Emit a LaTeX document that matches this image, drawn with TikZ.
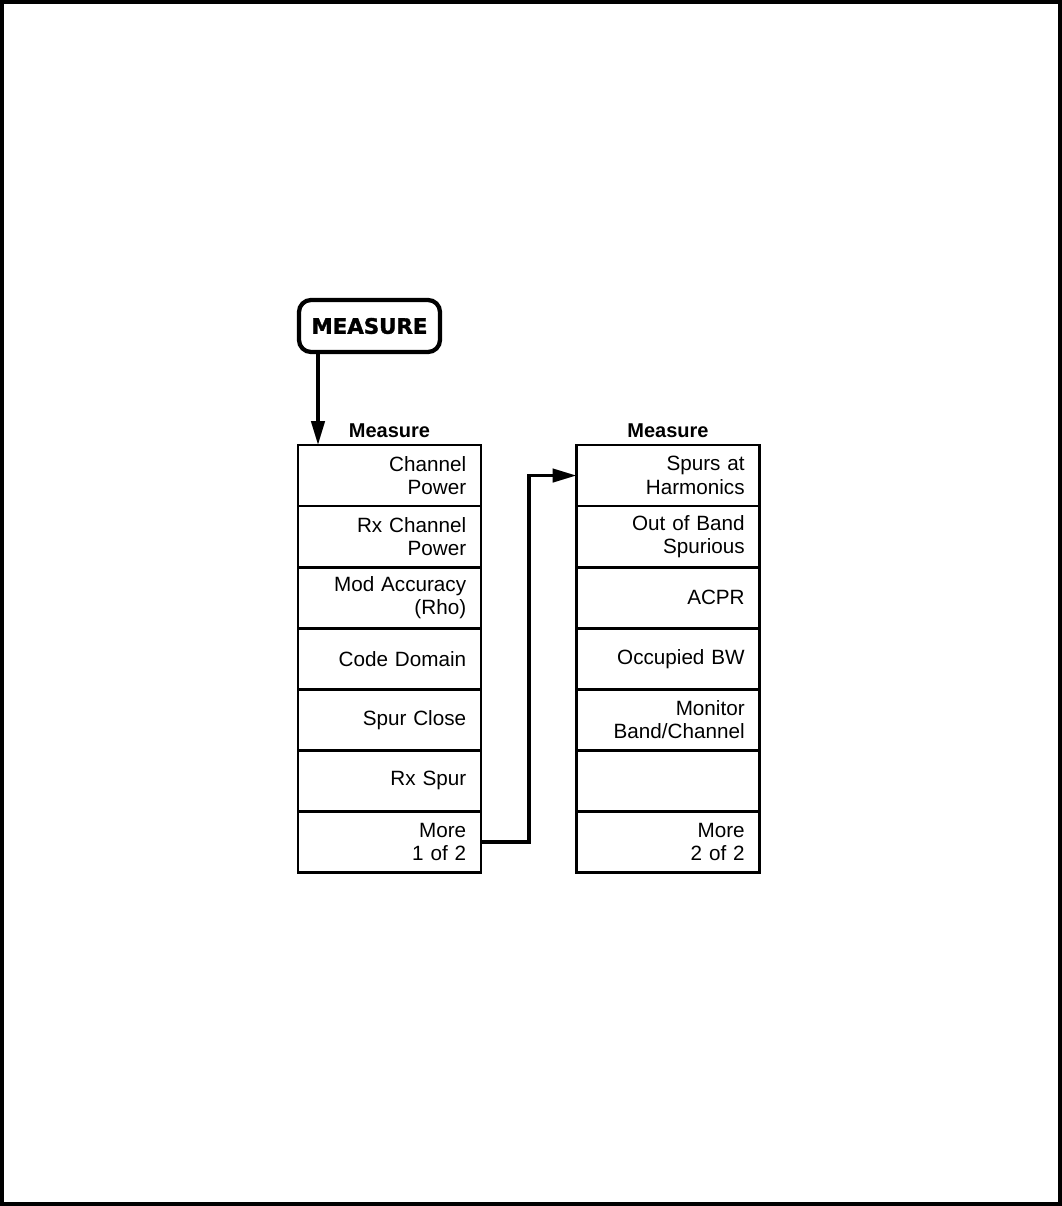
\documentclass[tikz,border=0pt]{standalone}
\usepackage{fontspec}
\setmainfont{Liberation Sans}
\newfontfamily\keyfont[BoldFeatures={FakeBold=1.5}]{DejaVu Sans}
\usetikzlibrary{positioning,arrows.meta}

\begin{document}
\begin{tikzpicture}[
  x=0.75pt, y=-0.75pt,
  >={Triangle[length=18pt,width=10pt]},
  softkey/.style={draw, line width=2.1pt, outer sep=0pt, minimum width=137.25pt,
                  minimum height=45.8pt, inner xsep=11pt, inner ysep=0pt,
                  text width=115pt, align=right, font=\fontsize{15.5}{17.5}\selectfont},
  menutitle/.style={inner sep=0pt, font=\fontsize{15}{17}\selectfont\bfseries},
  hardkey/.style={draw, line width=3.2pt, rounded corners=9pt, minimum width=105.75pt,
                  minimum height=39pt, font=\keyfont\fontsize{16}{18}\selectfont\bfseries},
  flow/.style={->, line width=2.6pt}
]

\useasboundingbox (0,0) rectangle (1062,1206);
\draw[line width=3.2pt] (2,2) rectangle (1060,1204);

\node[hardkey] (key) at (369.5,326) {MEASURE};

\node[softkey, anchor=north] (lc1) at (389.5,445) {Channel\\Power};
\node[softkey, below=0pt of lc1] (lc2) {Rx Channel\\Power};
\node[softkey, below=0pt of lc2] (lc3) {Mod Accuracy\\(Rho)};
\node[softkey, below=0pt of lc3] (lc4) {Code Domain};
\node[softkey, below=0pt of lc4] (lc5) {Spur Close};
\node[softkey, below=0pt of lc5] (lc6) {Rx Spur};
\node[softkey, below=0pt of lc6] (lc7) {More\\1 of 2};
\node[menutitle, above=5pt of lc1] (ltitle) {Measure};

\node[softkey, anchor=north] (rc1) at (668,445) {Spurs at\\Harmonics};
\node[softkey, below=0pt of rc1] (rc2) {Out of Band\\Spurious};
\node[softkey, below=0pt of rc2] (rc3) {ACPR};
\node[softkey, below=0pt of rc3] (rc4) {Occupied BW};
\node[softkey, below=0pt of rc4] (rc5) {Monitor\\Band/Channel};
\node[softkey, below=0pt of rc5] (rc6) {};
\node[softkey, below=0pt of rc6] (rc7) {More\\2 of 2};
\node[menutitle, above=5pt of rc1] (rtitle) {Measure};

\coordinate (entry) at ([xshift=15pt]lc1.north west);
\draw[flow] (key.south -| entry) -- (entry);
\draw[flow] (lc7.east) -- ++(36pt,0) |- (rc1.west);

\end{tikzpicture}
\end{document}
